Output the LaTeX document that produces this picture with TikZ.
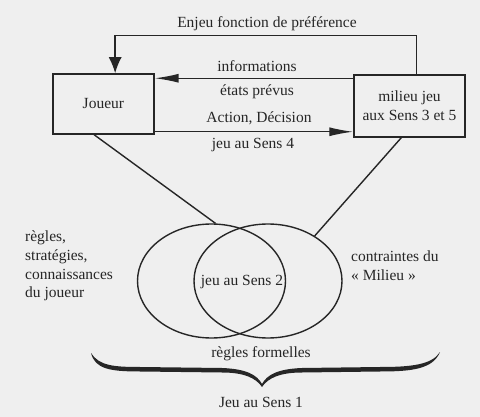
\documentclass[tikz,border=0pt]{standalone}
\usepackage{fontspec}
\setmainfont{Liberation Serif}
\usetikzlibrary{arrows.meta,shapes.geometric,calc}
\definecolor{ink}{HTML}{262626}
\definecolor{paper}{HTML}{EFEFEF}
\begin{document}
\begin{tikzpicture}[x=1pt,y=-1pt,
  every node/.style={font=\fontsize{15.5}{18.7}\selectfont, text=ink},
  box/.style={draw=ink, line width=1.5pt, inner sep=0pt},
  lbl/.style={inner sep=0pt},
  conn/.style={draw=ink, line width=1.4pt},
  harr/.style={conn, -{Latex[length=24pt,width=9pt]}},
  varr/.style={conn, -{Latex[length=16pt,width=13pt]}},
  oval/.style={ellipse, draw=ink, line width=1.4pt, minimum width=148pt, minimum height=114pt, inner sep=0pt}]
\fill[paper] (0,0) rectangle (480,417);
\useasboundingbox (0,0) rectangle (480,417);
% boxes
\node[box, minimum width=101pt, minimum height=60pt] (joueur) at (103.4,104) {Joueur};
\node[box, minimum width=111pt, minimum height=62pt, align=center] (milieu) at (409.5,106) {milieu jeu\\aux Sens 3 et 5};
% ellipses
\node[oval] (E1) at (211.5,281) {};
\node[oval] (E2) at (268,281) {};
% labels
\node[lbl] (enjeu) at (267,24) {Enjeu fonction de préférence};
\node[lbl] (info) at (257,66) {informations};
\node[lbl] (etats) at (257,92) {états prévus};
\node[lbl] (action) at (259,118) {Action, Décision};
\node[lbl] (sens4) at (253,145) {jeu au Sens 4};
\node[lbl] (sens2) at (242,282) {jeu au Sens 2};
\node[lbl, align=left, anchor=west] (regles) at (25,266) {règles,\\stratégies,\\connaissances\\du joueur};
\node[lbl, align=left, anchor=west] (contr) at (351,266) {contraintes du\\«~Milieu~»};
\node[lbl] (formelles) at (261,354) {règles formelles};
\node[lbl] (sens1) at (261,402) {Jeu au Sens 1};
% connectors
\draw[varr] ([xshift=63pt]milieu.north west) -- ++(0,-39) -| ([xshift=63pt]joueur.north west);
\coordinate (infoR) at ([yshift=-4pt]milieu.north west);
\draw[harr] (infoR) -- (infoR -| joueur.east);
\coordinate (actL) at ([yshift=3pt]joueur.south east);
\draw[harr] (actL) -- (actL -| milieu.west);
\draw[conn] ([xshift=42pt]joueur.south west) -- (E1.86);
\draw[conn] ([xshift=48pt]milieu.south west) -- (E2.44);
% brace
\fill[ink] (91,353) .. controls (99,366) and (115,367) .. (140,367) -- (222,368)
  .. controls (247,369) and (257,375) .. (262,384)
  .. controls (267,375) and (277,369) .. (302,368) -- (380,367)
  .. controls (410,367) and (432,365) .. (440,352)
  .. controls (433,369) and (412,371.5) .. (380,371.5) -- (302,372.5)
  .. controls (280,372.5) and (268,378) .. (262,387)
  .. controls (256,378) and (244,372.5) .. (222,372.5) -- (140,371.5)
  .. controls (110,371.5) and (95,369) .. (91,353) -- cycle;
\end{tikzpicture}
\end{document}
